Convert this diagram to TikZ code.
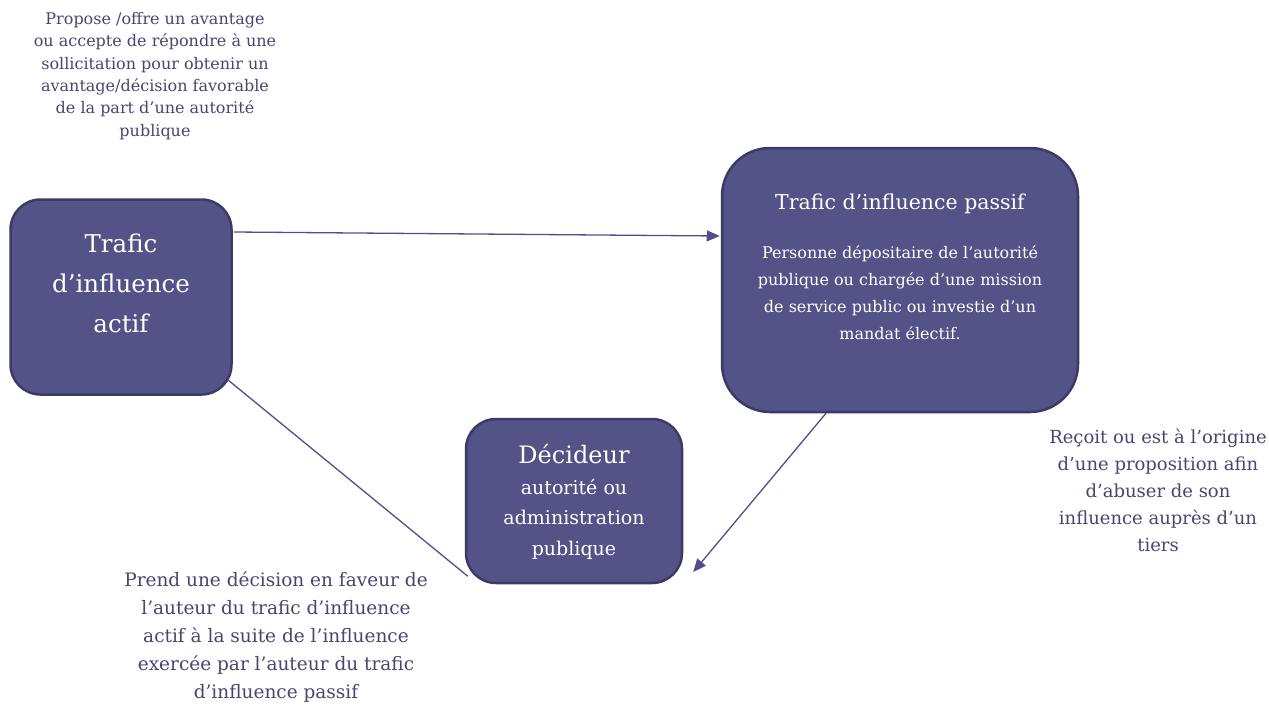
\documentclass[tikz,border=0pt]{standalone}
\usepackage{fontspec}
\setmainfont{DejaVu Serif}
\usetikzlibrary{positioning,arrows.meta}
\definecolor{boxfill}{HTML}{535388}
\definecolor{boxline}{HTML}{3B3B66}
\definecolor{notetext}{HTML}{46466F}
\definecolor{linkcol}{HTML}{4E4F8C}

\begin{document}
\begin{tikzpicture}[x=1pt,y=-1pt]
    \tikzstyle{box}=[draw=boxline, line width=2.5pt, fill=boxfill, inner sep=0pt]
    \tikzstyle{boxtext}=[text=white, align=center, inner sep=0pt]
    \tikzstyle{note}=[text=notetext, align=center, inner sep=0pt]
    \tikzstyle{link}=[draw=linkcol, line width=1.3pt]
    \useasboundingbox (0,0) rectangle (1269,709);

    % the three parties
    \node[box, rounded corners=30pt, minimum width=221pt, minimum height=195pt] (actif) at (121,297) {};
    \node[box, rounded corners=48pt, minimum width=356pt, minimum height=264pt] (passif) at (900,280) {};
    \node[box, rounded corners=30pt, minimum width=216pt, minimum height=164pt] (decideur) at (574,501) {};

    \node[boxtext, font=\fontsize{24.5pt}{40pt}\selectfont] (actiftxt) at (121,283) {Trafic\\d’influence\\actif};
    \node[boxtext, font=\fontsize{20.5pt}{24pt}\selectfont] (passiftitle) at (900,204) {Trafic d’influence passif};
    \node[boxtext, font=\fontsize{16pt}{27pt}\selectfont] (passifbody) at (900,293) {Personne dépositaire de l’autorité\\publique ou chargée d’une mission\\de service public ou investie d’un\\mandat électif.};
    \node[boxtext, font=\fontsize{24pt}{28pt}\selectfont] (decideurtitle) at (574,454) {Décideur};
    \node[boxtext, font=\fontsize{19pt}{30.5pt}\selectfont] (decideurbody) at (574,519) {autorité ou\\administration\\publique};

    % what each one does
    \node[note, font=\fontsize{16pt}{22.3pt}\selectfont] (actifnote) at (155,76) {Propose /offre un avantage\\ou accepte de répondre à une\\sollicitation pour obtenir un\\avantage/décision favorable\\de la part d’une autorité\\publique};
    \node[note, font=\fontsize{18pt}{27pt}\selectfont] (passifnote) at (1158,490) {Reçoit ou est à l’origine\\d’une proposition afin\\d’abuser de son\\influence auprès d’un\\tiers};
    \node[note, font=\fontsize{18.5pt}{28.2pt}\selectfont] (decideurnote) at (276,637) {Prend une décision en faveur de\\l’auteur du trafic d’influence\\actif à la suite de l’influence\\exercée par l’auteur du trafic\\d’influence passif};

    \draw[link,-{Triangle[length=13pt,width=11pt]}] ([shift={(1,-65)}]actif.east) -- ([shift={(-1,-44)}]passif.west);
    \draw[link] ([shift={(-5,-16)}]actif.south east) -- ([shift={(3,-8)}]decideur.south west);
    \draw[link,-{Triangle[length=13pt,width=11pt]}] ([shift={(-74,0)}]passif.south) -- ([shift={(10,71)}]decideur.east);
\end{tikzpicture}
\end{document}
